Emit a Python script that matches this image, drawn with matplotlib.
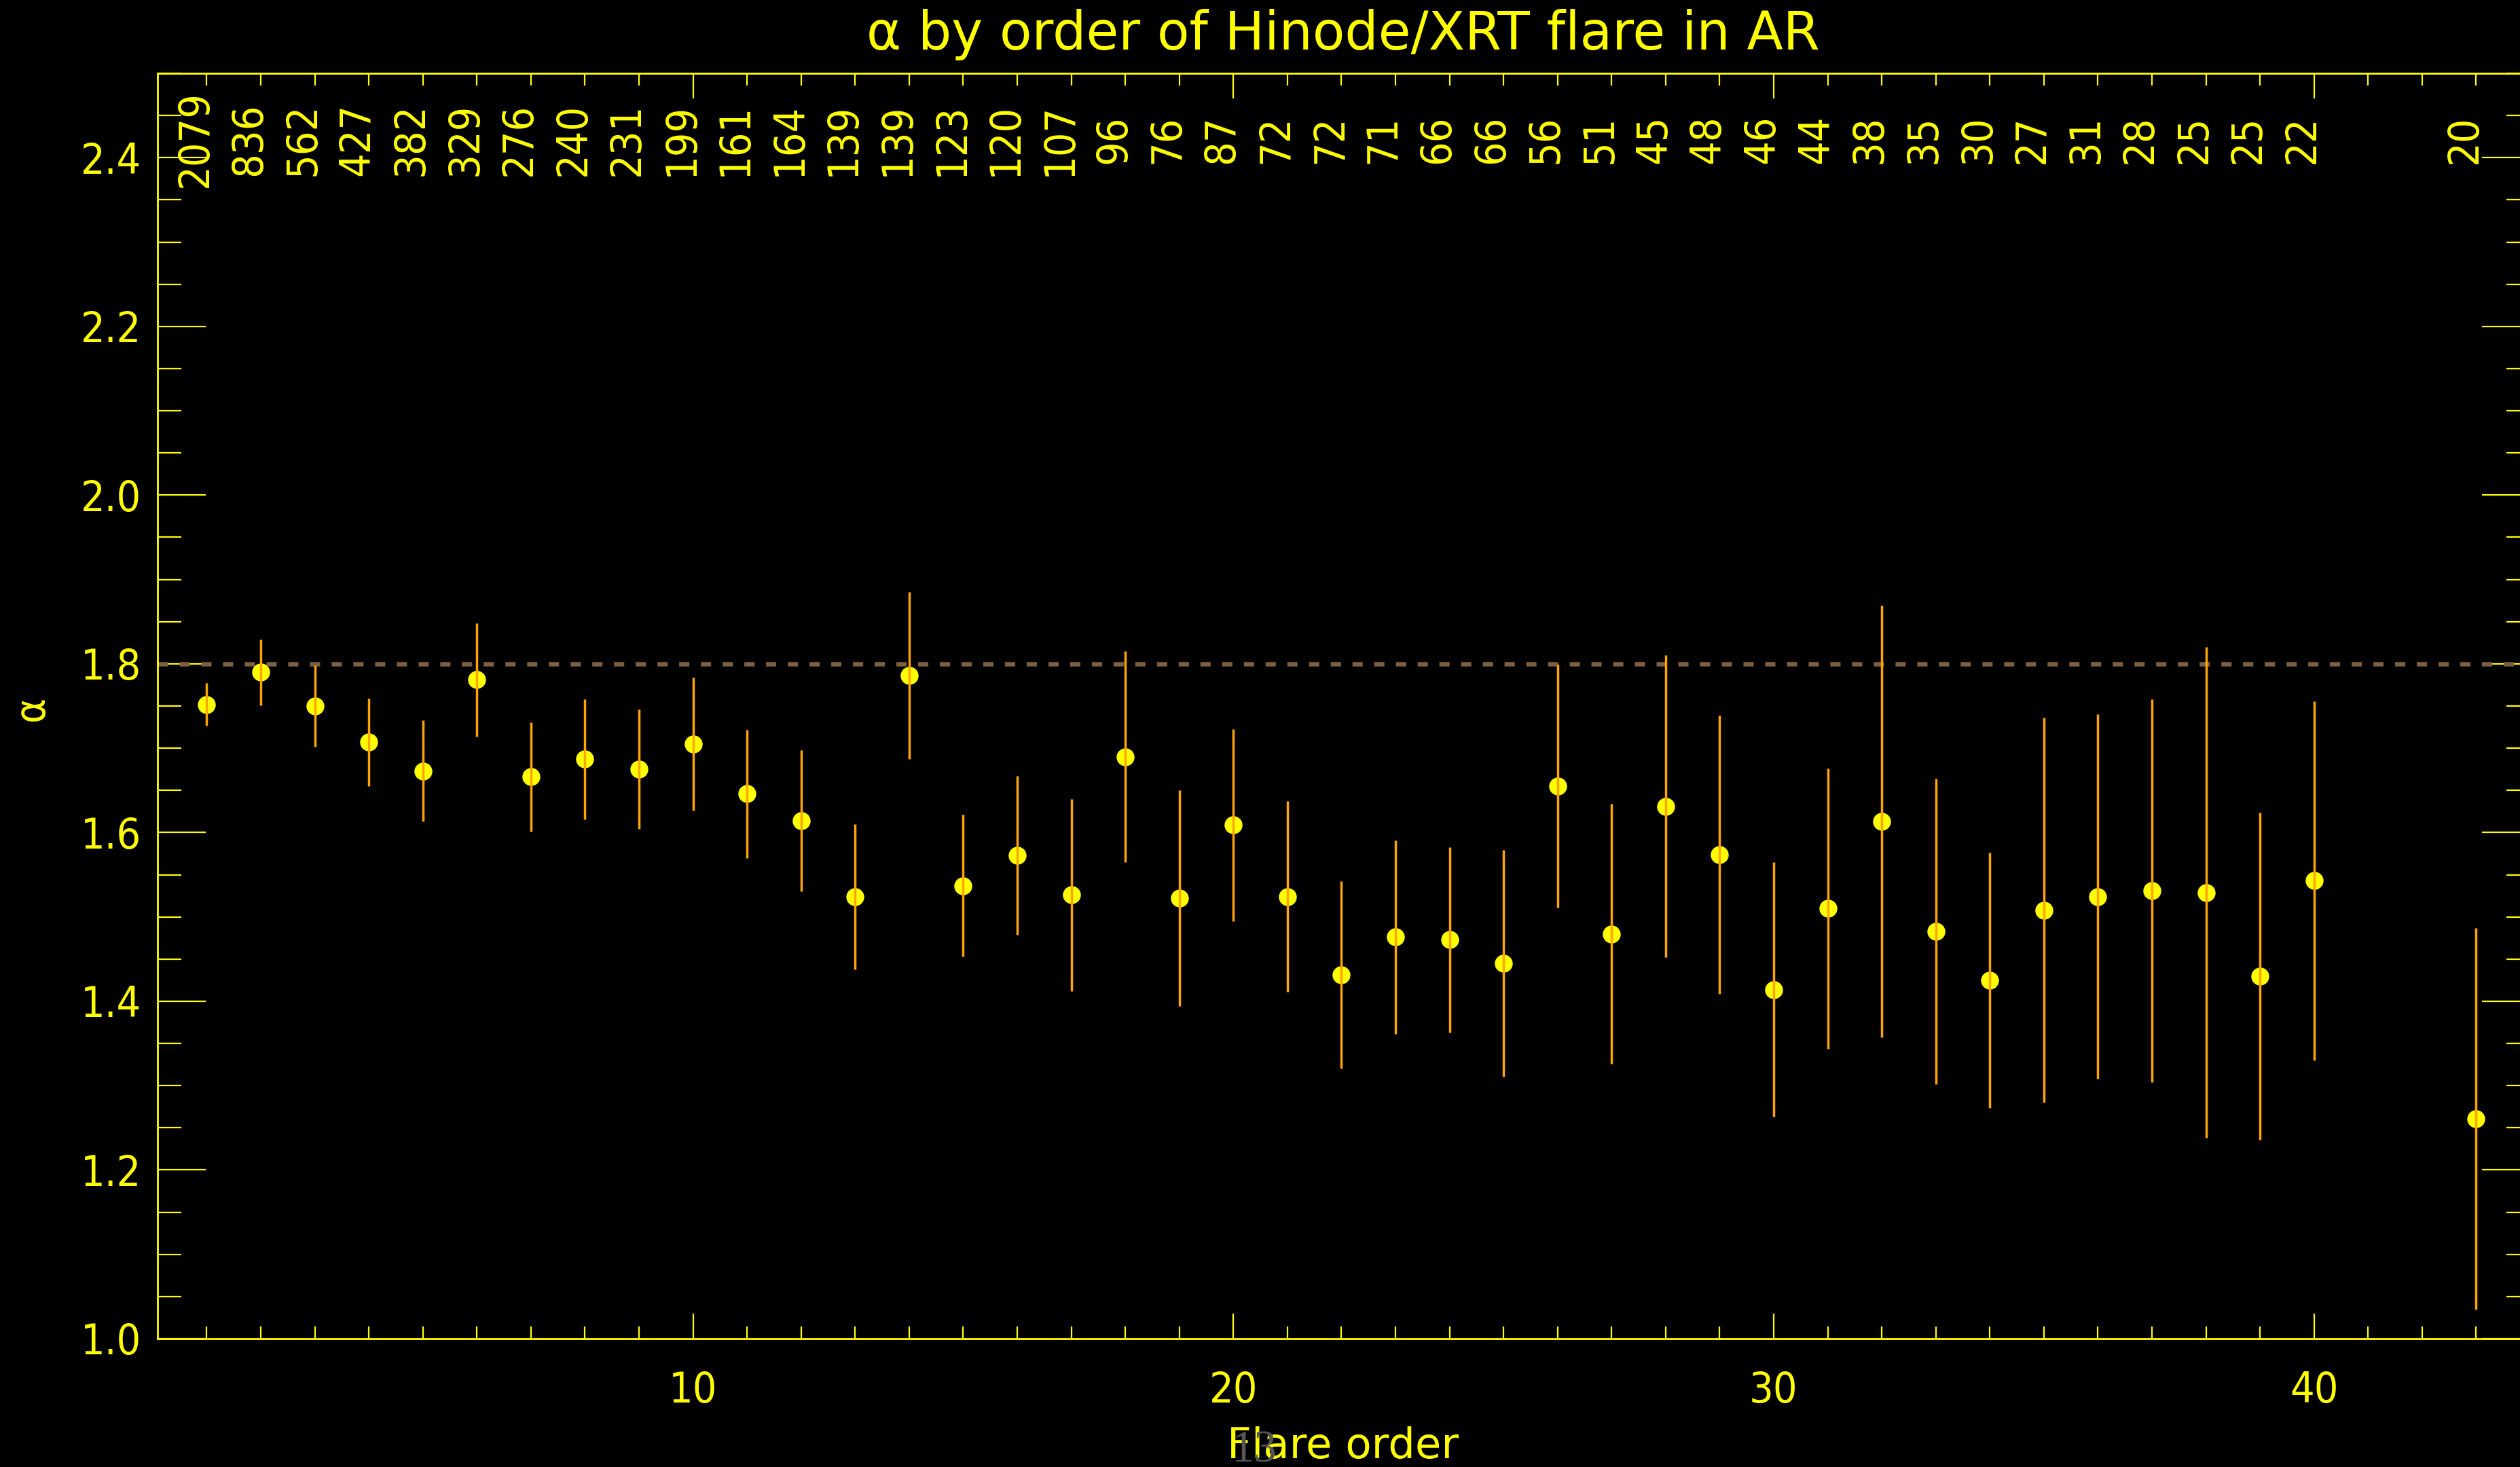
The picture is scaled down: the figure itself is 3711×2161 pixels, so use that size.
import numpy as np
import matplotlib
matplotlib.use("Agg")
import matplotlib.pyplot as plt
from matplotlib import font_manager
from matplotlib.ticker import MultipleLocator, FormatStrFormatter

# flare order, alpha, 1-sigma error and number of flares per bin
order = [1, 2, 3, 4, 5, 6, 7, 8, 9, 10,
         11, 12, 13, 14, 15, 16, 17, 18, 19, 20,
         21, 22, 23, 24, 25, 26, 27, 28, 29, 30,
         31, 32, 33, 34, 35, 36, 37, 38, 39, 40, 43]
alpha = [1.752, 1.790, 1.750, 1.707, 1.673, 1.781, 1.666, 1.687, 1.675, 1.705,
         1.646, 1.614, 1.524, 1.786, 1.537, 1.573, 1.526, 1.690, 1.522, 1.609,
         1.524, 1.431, 1.476, 1.473, 1.445, 1.655, 1.480, 1.631, 1.574, 1.414,
         1.510, 1.613, 1.483, 1.425, 1.508, 1.524, 1.531, 1.529, 1.430, 1.543, 1.261]
sigma = [0.025, 0.039, 0.048, 0.052, 0.060, 0.067, 0.065, 0.071, 0.071, 0.079,
         0.076, 0.084, 0.086, 0.099, 0.084, 0.094, 0.114, 0.125, 0.128, 0.114,
         0.113, 0.111, 0.115, 0.110, 0.134, 0.144, 0.154, 0.179, 0.165, 0.151,
         0.166, 0.256, 0.181, 0.151, 0.228, 0.216, 0.227, 0.291, 0.194, 0.213, 0.226]
counts = [2079, 836, 562, 427, 382, 329, 276, 240, 231, 199,
          161, 164, 139, 139, 123, 120, 107, 96, 76, 87,
          72, 72, 71, 66, 66, 56, 51, 45, 48, 46,
          44, 38, 35, 30, 27, 31, 28, 25, 25, 22, 20]
ref_alpha = 1.8

# narrow face if there is one, the IDL vector font is quite condensed
names = {f.name for f in font_manager.fontManager.ttflist}
main_font = 'Liberation Sans Narrow' if 'Liberation Sans Narrow' in names else 'DejaVu Sans'
plt.rcParams['font.family'] = [main_font, 'DejaVu Sans']
plt.rcParams['font.stretch'] = 'condensed'

yel = '#ffff00'
W, H = 3712, 2161
fig = plt.figure(figsize=(W / 100, H / 100), dpi=100, facecolor='black')
left, right, top, bottom = 232, 3726, 108, 1972
ax = fig.add_axes([left / W, 1 - bottom / H, (right - left) / W, (bottom - top) / H])
ax.set_facecolor('black')

ax.axhline(ref_alpha, color='#7d5f41', lw=4.7, linestyle=(0, (2.3, 2.6)), zorder=2)
ax.plot(order, alpha, 'o', color=yel, ms=19, mec='none', zorder=3)
ax.errorbar(order, alpha, yerr=sigma, fmt='none', ecolor='#ffa500',
            elinewidth=2.5, capsize=0, zorder=4)

for xv, n in zip(order, counts):
    ax.text(xv, 2.422, str(n), rotation=90, rotation_mode='anchor',
            ha='center', va='baseline', color=yel, fontsize=45, zorder=5)

ax.set_xlim(0.09, 44)
ax.set_ylim(1.0, 2.5)
ax.xaxis.set_major_locator(MultipleLocator(10))
ax.xaxis.set_minor_locator(MultipleLocator(1))
ax.yaxis.set_major_locator(MultipleLocator(0.2))
ax.yaxis.set_minor_locator(MultipleLocator(0.05))
ax.yaxis.set_major_formatter(FormatStrFormatter('%.1f'))

for s in ax.spines.values():
    s.set_color(yel)
    s.set_linewidth(2)
ax.tick_params(which='both', direction='in', top=True, right=True,
               colors=yel, labelsize=45, width=1.6)
ax.tick_params(axis='x', which='major', length=26.6, pad=34)
ax.tick_params(axis='x', which='minor', length=13)
ax.tick_params(axis='y', which='major', length=51, pad=17)
ax.tick_params(axis='y', which='minor', length=25)

fig.text(1978 / W, 1 - 73 / H, 'α by order of Hinode/XRT flare in AR',
         ha='center', va='baseline', color=yel, fontsize=56, fontstretch='normal')
fig.text(1978 / W, 1 - 2148 / H, 'Flare order', ha='center', va='baseline',
         color=yel, fontsize=45, fontstretch='normal')
fig.text(47 / W, 1 - 1044 / H, 'α', rotation=90, ha='center', va='center',
         color=yel, fontsize=45)
fig.text(1847 / W, 1 - 2154 / H, '13', ha='center', va='baseline',
         color='#555555', fontsize=48, family='Liberation Serif', zorder=10)

fig.savefig('out.png', dpi=100, facecolor='black')
